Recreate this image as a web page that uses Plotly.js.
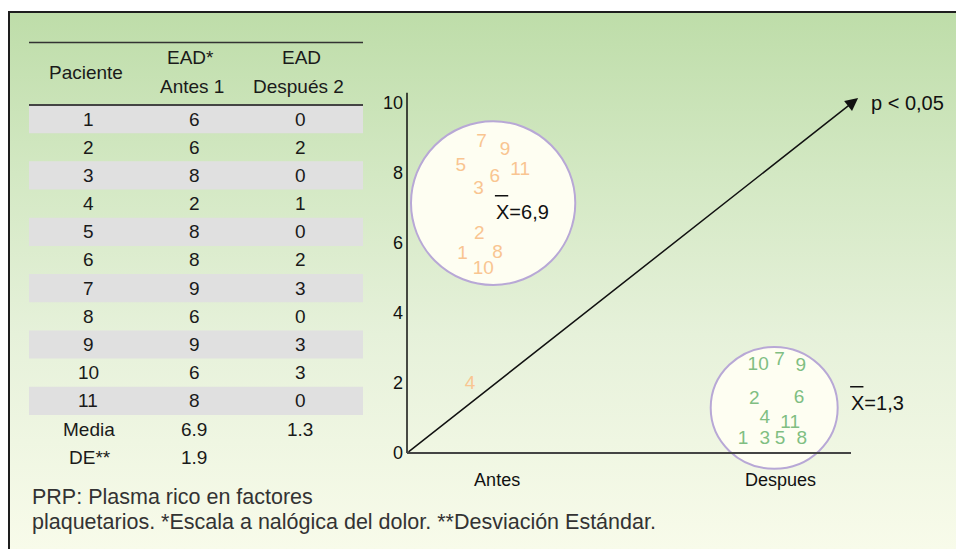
<!DOCTYPE html>
<html>
<head>
<meta charset="utf-8">
<script src="https://cdn.plot.ly/plotly-3.0.1.min.js"></script>
<style>
  html, body { margin:0; padding:0; background:#ffffff; }
  #wrap { position:relative; width:956px; height:549px; overflow:hidden; }
  #bg { position:absolute; left:8px; top:11px; width:948px; height:538px; box-sizing:border-box;
        border-left:2px solid #1e1e1e; border-top:2px solid #1e1e1e;
        background: linear-gradient(to bottom, #bedda9 0%, #d3e8c3 30%, #e6f1da 60%, #f8fbea 100%); }
  #chart { position:absolute; left:0; top:0; width:956px; height:549px; }
</style>
</head>
<body>
<div id="wrap"><div id="bg"></div><div id="chart"></div></div>
<script>
// ---------- data ----------
const patients = [1, 2, 3, 4, 5, 6, 7, 8, 9, 10, 11];
const antes    = [6, 6, 8, 2, 8, 8, 9, 6, 9, 6, 8];
const despues  = [0, 2, 0, 1, 0, 2, 3, 0, 3, 3, 0];
const mediaAntes = 6.9, mediaDespues = 1.3, deAntes = 1.9;
const headerTop    = ['', 'EAD*', 'EAD'];
const headerBottom = ['', 'Antes 1', 'Después 2'];
const headerSingle = 'Paciente';
const groupLabels = ['Antes', 'Despues'];
const yTicks = [0, 2, 4, 6, 8, 10];
const pLabel = 'p < 0,05';
const footLine1 = 'PRP: Plasma rico en factores';
const footLine2 = 'plaquetarios. *Escala a nalógica del dolor. **Desviación Estándar.';

// ---------- layout helpers (placement only) ----------
const W = 956, H = 549;
const FONT = 'Liberation Sans, Arial, Helvetica, sans-serif';
const px = x => x / W;            // pixel -> paper x
const py = y => 1 - y / H;        // pixel -> paper y
// plot mapping: data x 0 at 407px, 44.4 px/unit; data y 0 at 453px, 35 px/unit
const X0 = 407, XS = 44.4, Y0 = 453, YS = 35;
const xr = [-1, 12.3], yr = [-2, 10.6];
const xDom = [px(X0 + xr[0]*XS), px(X0 + xr[1]*XS)];
const yDom = [py(Y0 - yr[0]*YS), py(Y0 - yr[1]*YS)];
const groupX = [2.03, 8.41];

// jitter of the labels inside the circles
const antesLabelX  = [1.25, 1.63, 1.61, 1.42, 1.21, 1.98, 1.68, 2.04, 2.21, 1.72, 2.55];
const antesLabelDy = [-0.32, 0.25, -0.45, -0.03, 0.2, -0.11, -0.11, -0.28, -0.36, -0.75, 0.09];
const despLabelX   = [7.57, 7.82, 8.06, 8.06, 8.40, 8.83, 8.39, 8.89, 8.87, 7.91, 8.63];
const despLabelDy  = [0.4, -0.46, 0.4, 0.0, 0.4, -0.43, -0.34, 0.4, -0.51, -0.49, 0.86];

const orange = 'rgb(249,197,145)';
const green = 'rgb(128,190,130)';

const traces = [
  {
    type: 'scatter', mode: 'text', x: antesLabelX,
    y: antes.map((v, i) => v + antesLabelDy[i]),
    text: patients.map(String), textposition: 'middle center',
    textfont: {family: FONT, size: 19, color: orange},
    hoverinfo: 'skip', showlegend: false, cliponaxis: false
  },
  {
    type: 'scatter', mode: 'text', x: despLabelX,
    y: despues.map((v, i) => v + despLabelDy[i]),
    text: patients.map(String), textposition: 'middle center',
    textfont: {family: FONT, size: 19, color: green},
    hoverinfo: 'skip', showlegend: false, cliponaxis: false
  }
];

const shapes = [];
const annotations = [];

// table bands
const tblL = 29, tblR = 363, rowTop = 105, rowH = 28.18;
patients.forEach((p, i) => {
  if (i % 2 === 0) {
    shapes.push({type: 'rect', xref: 'paper', yref: 'paper', layer: 'below',
      x0: px(tblL), x1: px(tblR), y0: py(rowTop + (i+1)*rowH), y1: py(rowTop + i*rowH),
      fillcolor: '#e0e0e0', line: {width: 0}});
  }
});
shapes.push({type: 'line', xref: 'paper', yref: 'paper', x0: px(tblL), x1: px(tblR), y0: py(42.5), y1: py(42.5), line: {color: '#333', width: 1.5}});
shapes.push({type: 'line', xref: 'paper', yref: 'paper', x0: px(tblL), x1: px(tblR), y0: py(105), y1: py(105), line: {color: '#444', width: 2}});

const colX = [88, 194, 300];
const TS = 19;
const txt = (x, y, t, size, color, xanchor) => annotations.push({
  xref: 'paper', yref: 'paper', x: px(x), y: py(y), text: t, showarrow: false,
  xanchor: xanchor || 'center', yanchor: 'middle',
  font: {family: FONT, size: size, color: color || '#1a1a1a'}
});
txt(86, 72.5, headerSingle, TS);
txt(190, 57.5, headerTop[1], TS);
txt(192, 87, headerBottom[1], TS);
txt(301, 57.5, headerTop[2], TS);
txt(298.5, 87, headerBottom[2], TS);
patients.forEach((p, i) => {
  const y = rowTop + (i + 0.5) * rowH;
  txt(colX[0], y, String(p), TS);
  txt(colX[1], y, String(antes[i]), TS);
  txt(colX[2], y, String(despues[i]), TS);
});
txt(89, 429, 'Media', TS);
txt(colX[1], 429, String(mediaAntes), TS);
txt(colX[2], 429, String(mediaDespues), TS);
txt(89.5, 457, 'DE**', TS);
txt(colX[1], 457, String(deAntes), TS);
txt(30, 497, footLine1, 21.5, '#333', 'left');
txt(30, 522, footLine2, 21.5, '#333', 'left');

// circles
shapes.push({type: 'circle', xref: 'x', yref: 'y', layer: 'below', x0: 0.09, x1: 3.79, y0: 4.80, y1: 9.48,
  fillcolor: '#fefef2', line: {color: 'rgb(184,168,214)', width: 2}});
shapes.push({type: 'circle', xref: 'x', yref: 'y', layer: 'below', x0: 6.84, x1: 9.70, y0: -0.45, y1: 3.03,
  fillcolor: '#fefef2', line: {color: 'rgb(184,168,214)', width: 2}});
// axis lines
shapes.push({type: 'line', xref: 'x', yref: 'y', layer: 'below', x0: 0, x1: 0, y0: 0, y1: 10.29, line: {color: '#111', width: 1.5}});
shapes.push({type: 'line', xref: 'x', yref: 'y', layer: 'below', x0: 0, x1: 10.0, y0: 0, y1: 0, line: {color: '#444', width: 2}});
// overline bars of the mean symbols
shapes.push({type: 'line', xref: 'x', yref: 'y', x0: 1.98, x1: 2.28, y0: 7.35, y1: 7.35, line: {color: '#111', width: 1.5}});
shapes.push({type: 'line', xref: 'x', yref: 'y', x0: 9.98, x1: 10.28, y0: 1.89, y1: 1.89, line: {color: '#111', width: 1.5}});

// arrow
annotations.push({xref: 'x', yref: 'y', axref: 'x', ayref: 'y', x: 10.16, y: 10.14, ax: 0, ay: 0,
  text: '', showarrow: true, arrowhead: 2, arrowsize: 1.7, arrowwidth: 1.5, arrowcolor: '#111', standoff: 0, startstandoff: 0});
annotations.push({xref: 'x', yref: 'y', x: 10.4, y: 10.0, text: pLabel, showarrow: false, xanchor: 'left', yanchor: 'middle',
  font: {family: FONT, size: 20, color: '#111'}});
// means
annotations.push({xref: 'x', yref: 'y', x: 1.96, y: mediaAntes, text: 'X=' + String(mediaAntes).replace('.', ','), showarrow: false,
  xanchor: 'left', yanchor: 'middle', font: {family: FONT, size: 20, color: '#111'}});
annotations.push({xref: 'x', yref: 'y', x: 9.96, y: 1.43, text: 'X=' + String(mediaDespues).replace('.', ','), showarrow: false,
  xanchor: 'left', yanchor: 'middle', font: {family: FONT, size: 20, color: '#111'}});

const layout = {
  width: W, height: H, margin: {l: 0, r: 0, t: 0, b: 0},
  paper_bgcolor: 'rgba(0,0,0,0)', plot_bgcolor: 'rgba(0,0,0,0)',
  showlegend: false,
  font: {family: FONT, color: '#111'},
  xaxis: {domain: xDom, range: xr, anchor: 'free', position: py(Y0), showgrid: false, zeroline: false, showline: false,
    ticks: '', tickvals: groupX, ticktext: groupLabels, tickfont: {family: FONT, size: 18, color: '#111'},
    ticklabelstandoff: 14, fixedrange: true},
  yaxis: {domain: yDom, range: yr, anchor: 'free', position: px(X0), showgrid: false, zeroline: false, showline: false,
    ticks: '', tickvals: yTicks, tickfont: {family: FONT, size: 18, color: '#111'}, ticklabelstandoff: 4, fixedrange: true},
  shapes: shapes, annotations: annotations
};

Plotly.newPlot('chart', traces, layout, {displayModeBar: false, staticPlot: true});
</script>
</body>
</html>
